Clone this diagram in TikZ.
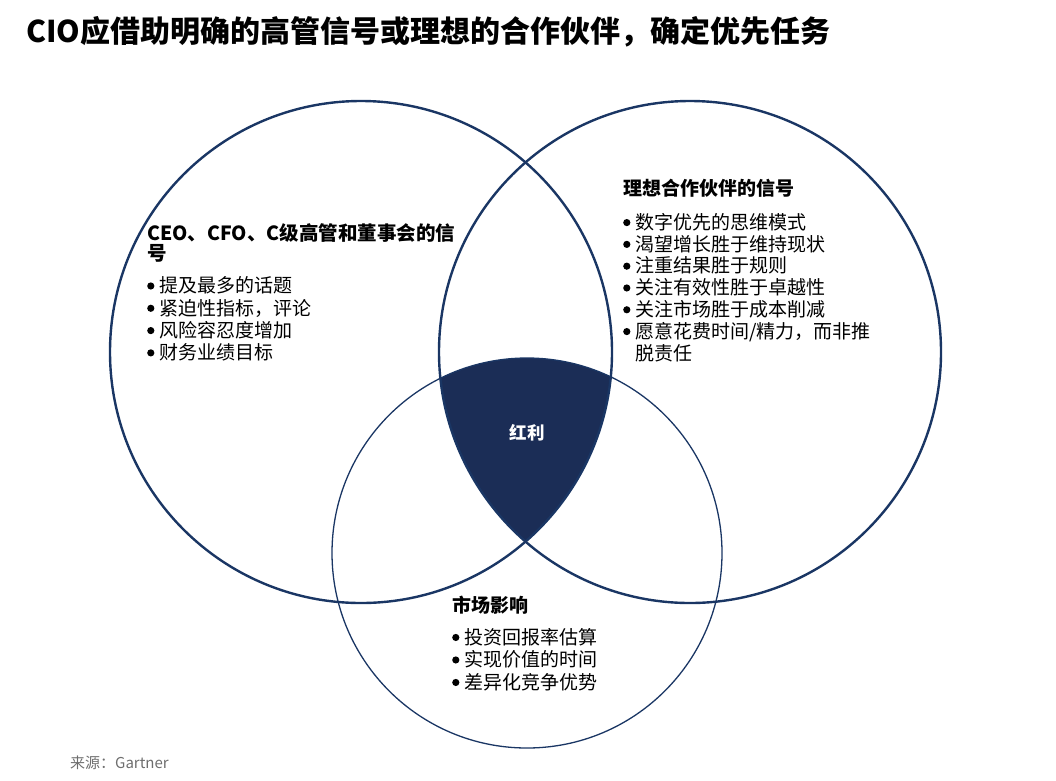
\documentclass[tikz,border=0pt]{standalone}
\usepackage{fontspec}
\setmainfont{Noto Sans CJK SC}
\usepackage{xcolor}
\usepackage{tikz}
\usetikzlibrary{positioning}
\definecolor{vennnavy}{RGB}{27,45,86}
\definecolor{vennline}{RGB}{26,54,100}
\definecolor{sourcegray}{RGB}{110,110,110}
\newcommand{\bul}{\makebox[12pt][l]{\tikz[baseline=-6.8pt]\fill (4pt,0pt) circle[radius=3.6pt];}}

\begin{document}
\begin{tikzpicture}[x=1pt, y=-1pt, font=\fontsize{19}{22.3}\selectfont, inner sep=0pt, node distance=12pt]
        \useasboundingbox (0,0) rectangle (1056,780);

        \node[anchor=west, font=\fontsize{30}{34}\selectfont\bfseries] (title) at (26,32) {CIO应借助明确的高管信号或理想的合作伙伴，确定优先任务};

        % circle centres
        \coordinate (cl) at (361,352);
        \coordinate (cr) at (690,352);
        \coordinate (cb) at (527,553);

        % shared area of all three
        \begin{scope}
          \clip (cl) circle[radius=251];
          \clip (cr) circle[radius=251];
          \fill[vennnavy] (cb) circle[radius=195];
        \end{scope}

        \draw[vennline, line width=2.4pt] (cl) circle[radius=251];
        \draw[vennline, line width=2.4pt] (cr) circle[radius=251];
        \draw[vennline, line width=1.3pt] (cb) circle[radius=195];

        \node[text=white, font=\fontsize{17.5}{20}\selectfont\bfseries] (gain) at (527,433) {红利};

        % left circle
        \node[anchor=west, align=left, font=\fontsize{19.5}{20}\selectfont\bfseries] (lhead) at (147,243) {CEO、CFO、C级高管和董事会的信\\号};
        \node[anchor=west, align=left] (llist) at (147,319) {\bul 提及最多的话题\\\bul 紧迫性指标，评论\\\bul 风险容忍度增加\\\bul 财务业绩目标};

        % right circle
        \node[anchor=west, font=\fontsize{19}{20}\selectfont\bfseries] (rhead) at (623,188) {理想合作伙伴的信号};
        \node[anchor=west, align=left, font=\fontsize{19}{21.8}\selectfont] (rlist) at (623,287.5) {\bul 数字优先的思维模式\\\bul 渴望增长胜于维持现状\\\bul 注重结果胜于规则\\\bul 关注有效性胜于卓越性\\\bul 关注市场胜于成本削减\\\bul 愿意花费时间/精力，而非推\\\hspace*{12pt}脱责任};

        % bottom circle
        \node[anchor=west, font=\fontsize{19}{20}\selectfont\bfseries] (bhead) at (452,605) {市场影响};
        \node[anchor=west, align=left, font=\fontsize{19}{22.5}\selectfont] (blist) at (452,659.5) {\bul 投资回报率估算\\\bul 实现价值的时间\\\bul 差异化竞争优势};

        \node[anchor=west, text=sourcegray, font=\fontsize{15}{18}\selectfont] (src) at (70,763) {来源：Gartner};
      \end{tikzpicture}
\end{document}
